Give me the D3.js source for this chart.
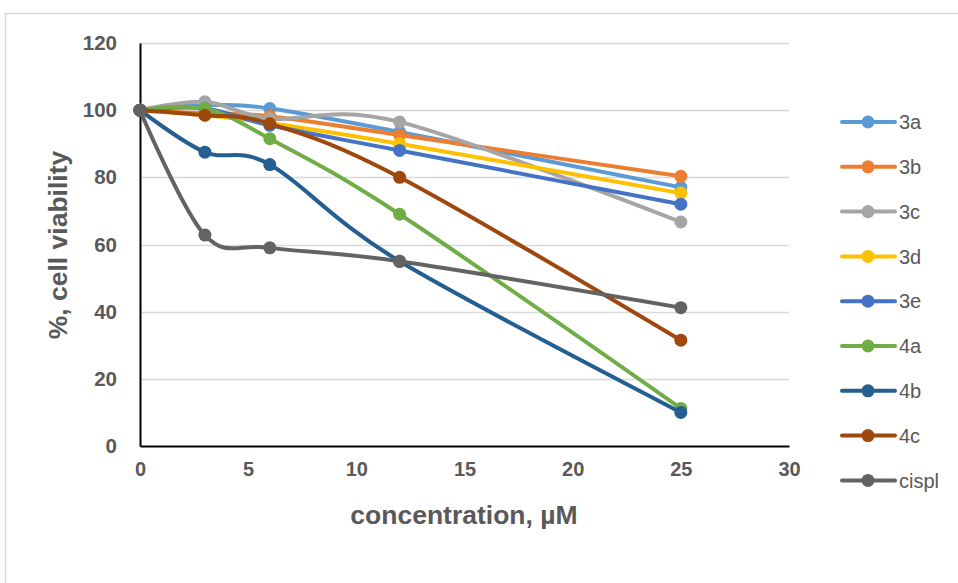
<!DOCTYPE html>
<html>
<head>
<meta charset="utf-8">
<script src="https://cdn.jsdelivr.net/npm/d3@7"></script>
<style>
  html, body { margin: 0; padding: 0; background: #fff; }
  svg { display: block; }
</style>
</head>
<body>
<svg id="chart" width="958" height="583"></svg>
<script>
// Concentrations tested (µM)
const concentrations = [0, 3, 6, 12, 25];

// % cell viability per compound
const series3a = [100, 101.5, 100.5, 93.5, 77];
const series3b = [100, 99, 98.2, 92.6, 80.3];
const series3c = [100, 102.5, 97.5, 96.5, 66.7];
const series3d = [100, 98.5, 96.2, 90, 75.3];
const series3e = [100, 100.5, 95.5, 88, 72];
const series4a = [100, 100.5, 91.5, 69, 11.2];
const series4b = [100, 87.5, 83.8, 55, 10];
const series4c = [100, 98.5, 96, 80, 31.5];
const seriesCispl = [100, 62.8, 59, 55, 41.2];

const seriesNames = ["3a", "3b", "3c", "3d", "3e", "4a", "4b", "4c", "cispl"];
const seriesValues = [series3a, series3b, series3c, series3d, series3e, series4a, series4b, series4c, seriesCispl];
const seriesColors = ["#5B9BD5", "#ED7D31", "#A5A5A5", "#FFC000", "#4472C4", "#70AD47", "#255E91", "#9E480E", "#636363"];

const xTicks = [0, 5, 10, 15, 20, 25, 30];
const yTicks = [0, 20, 40, 60, 80, 100, 120];

const FONT = "'Liberation Sans', Arial, sans-serif";
const TEXT_COLOR = "#595959";

const svg = d3.select("#chart");

// outer chart frame
svg.append("rect")
  .attr("x", 5.5).attr("y", 13.5)
  .attr("width", 1000).attr("height", 1000)
  .attr("fill", "none").attr("stroke", "#d9d9d9").attr("stroke-width", 1.5);

const x = d3.scaleLinear().domain([0, 30]).range([140, 789]);
const y = d3.scaleLinear().domain([0, 120]).range([446, 43]);

// horizontal gridlines
svg.append("g")
  .selectAll("line")
  .data(yTicks.filter(d => d > 0))
  .join("line")
  .attr("x1", x(0)).attr("x2", x(30))
  .attr("y1", d => Math.round(y(d)) + 0.5).attr("y2", d => Math.round(y(d)) + 0.5)
  .attr("stroke", "#d9d9d9").attr("stroke-width", 1.5);

// y axis
const yAxis = svg.append("g")
  .attr("transform", `translate(${x(0)},0)`)
  .call(d3.axisLeft(y).tickValues(yTicks).tickSize(0).tickPadding(23));
yAxis.select(".domain").attr("stroke", "#000").attr("stroke-width", 2);
yAxis.selectAll("text")
  .attr("fill", TEXT_COLOR)
  .style("font-family", FONT)
  .style("font-weight", "bold")
  .style("font-size", "20.5px");

// x axis
const xAxis = svg.append("g")
  .attr("transform", `translate(0,${y(0)})`)
  .call(d3.axisBottom(x).tickValues(xTicks).tickSize(0).tickPadding(16));
xAxis.select(".domain").attr("stroke", "#000").attr("stroke-width", 2);
xAxis.selectAll("text")
  .attr("fill", TEXT_COLOR)
  .style("font-family", FONT)
  .style("font-weight", "bold")
  .style("font-size", "20px");

// axis titles
svg.append("text")
  .attr("x", 464).attr("y", 524)
  .attr("text-anchor", "middle")
  .attr("fill", TEXT_COLOR)
  .style("font-family", FONT)
  .style("font-weight", "bold")
  .style("font-size", "26.5px")
  .text("concentration, µM");

svg.append("text")
  .attr("transform", "translate(67,245) rotate(-90)")
  .attr("text-anchor", "middle")
  .attr("fill", TEXT_COLOR)
  .style("font-family", FONT)
  .style("font-weight", "bold")
  .style("font-size", "26.5px")
  .text("%, cell viability");

// smoothed series lines with markers
const line = d3.line()
  .x((d, i) => x(concentrations[i]))
  .y(d => y(d))
  .curve(d3.curveCardinal.tension(0));

const plot = svg.append("g");
seriesValues.forEach((vals, k) => {
  const g = plot.append("g");
  g.append("path")
    .attr("d", line(vals))
    .attr("fill", "none")
    .attr("stroke", seriesColors[k])
    .attr("stroke-width", 4)
    .attr("stroke-linejoin", "round")
    .attr("stroke-linecap", "round");
  g.selectAll("circle")
    .data(vals)
    .join("circle")
    .attr("cx", (d, i) => x(concentrations[i]))
    .attr("cy", d => y(d))
    .attr("r", 6.5)
    .attr("fill", seriesColors[k]);
});

// legend
const legend = svg.append("g");
seriesNames.forEach((name, k) => {
  const ly = 122 + k * 44.8;
  const g = legend.append("g");
  g.append("line")
    .attr("x1", 842).attr("x2", 895)
    .attr("y1", ly).attr("y2", ly)
    .attr("stroke", seriesColors[k]).attr("stroke-width", 4)
    .attr("stroke-linecap", "round");
  g.append("circle")
    .attr("cx", 868).attr("cy", ly).attr("r", 6.5)
    .attr("fill", seriesColors[k]);
  g.append("text")
    .attr("x", 899).attr("y", ly)
    .attr("dy", "0.36em")
    .attr("fill", TEXT_COLOR)
    .style("font-family", FONT)
    .style("font-size", "20px")
    .text(name);
});
</script>
</body>
</html>
